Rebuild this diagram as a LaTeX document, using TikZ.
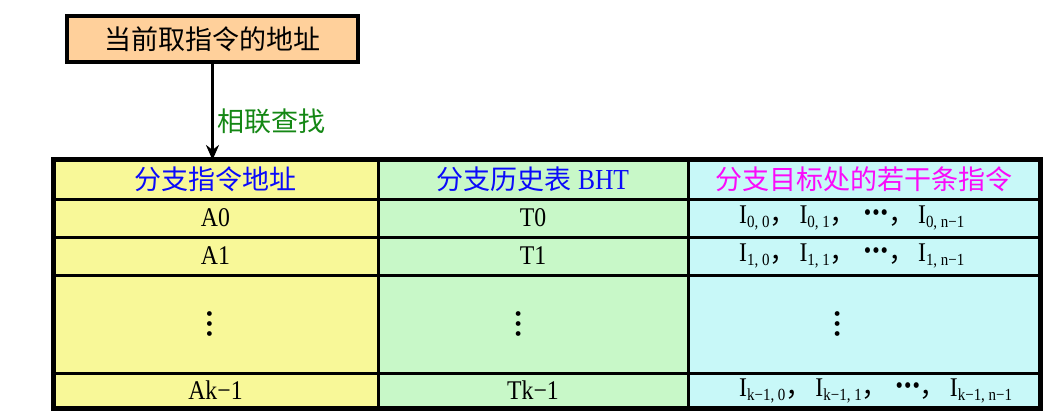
\documentclass[tikz,border=0pt]{standalone}
\usepackage{fontspec}
\setmainfont{Liberation Serif}
\newfontfamily\cjk{Noto Sans CJK SC}
\newfontfamily\narrow[FakeStretch=0.88]{Liberation Serif}
\usetikzlibrary{arrows.meta,positioning}

\definecolor{addrfill}{RGB}{255,208,155}
\definecolor{fillA}{RGB}{248,248,152}
\definecolor{fillB}{RGB}{200,248,200}
\definecolor{fillC}{RGB}{200,248,248}
\definecolor{findgreen}{RGB}{20,135,20}
\definecolor{hdrblue}{RGB}{10,10,250}
\definecolor{hdrpink}{RGB}{250,10,250}

\newcommand{\Ix}[1]{I\raisebox{-4pt}{\fontsize{17}{17}\selectfont #1}}
\newcommand{\hdotsrow}{\hspace{4pt}\raisebox{3pt}{\fontsize{24}{24}\selectfont •\hspace{1pt}•\hspace{1pt}•}}
\newcommand{\cm}{{\cjk ，}\hspace{3pt}}

\begin{document}
\begin{tikzpicture}[x=1pt,y=-1pt,>={Stealth[length=15pt,width=13pt]},
    cell/.style={draw,line width=3pt,outer sep=0pt,inner sep=0pt,
      font=\narrow\fontsize{27}{30}\selectfont},
    hdr/.style={cell,minimum height=39pt,font=\cjk\fontsize{27}{30}\selectfont},
    datarow/.style={cell,minimum height=38pt},
    gaprow/.style={cell,minimum height=98pt},
    lastrow/.style={cell,minimum height=35pt},
    colA/.style={fill=fillA,minimum width=325pt},
    colB/.style={fill=fillB,minimum width=310pt},
    colC/.style={fill=fillC,minimum width=352pt},
    vdotsnode/.style={rotate=-90,inner sep=0pt,font=\fontsize{20}{20}\selectfont},
    irow/.style={anchor=west,inner sep=0pt,font=\narrow\fontsize{27}{30}\selectfont},
    addrbox/.style={draw,line width=4pt,fill=addrfill,minimum width=291pt,
      minimum height=46pt,font=\cjk\fontsize{27}{30}\selectfont}]

    \useasboundingbox[fill=white] (0,0) rectangle (1050,417);

    \node[addrbox] (addr) at (212.5,39) {当前取指令的地址};

    % header row
    \node[hdr,colA,text=hdrblue] (hA) at (215.5,179.5) {分支指令地址};
    \node[hdr,colB,text=hdrblue] (hB) [right=0pt of hA] {分支历史表 {\narrow\fontsize{29}{30}\selectfont BHT}};
    \node[hdr,colC,text=hdrpink] (hC) [right=0pt of hB] {分支目标处的若干条指令};

    % rows
    \node[datarow,colA] (a0) [below=0pt of hA] {A0};
    \node[datarow,colB] (t0) [below=0pt of hB] {T0};
    \node[datarow,colC] (c0) [below=0pt of hC] {};

    \node[datarow,colA] (a1) [below=0pt of a0] {A1};
    \node[datarow,colB] (t1) [below=0pt of t0] {T1};
    \node[datarow,colC] (c1) [below=0pt of c0] {};

    \node[gaprow,colA] (ad) [below=0pt of a1] {};
    \node[gaprow,colB] (td) [below=0pt of t1] {};
    \node[gaprow,colC] (cd) [below=0pt of c1] {};

    \node[lastrow,colA] (ak) [below=0pt of ad] {Ak−1};
    \node[lastrow,colB] (tk) [below=0pt of td] {Tk−1};
    \node[lastrow,colC] (ck) [below=0pt of cd] {};

    % outer frame
    \draw[line width=5pt] (hA.north west) rectangle (ck.south east);

    % texts of the target column
    \node[irow] (i0) at ([xshift=51pt]c0.west) {\Ix{0, 0}\cm\Ix{0, 1}\cm\hdotsrow\cm\Ix{0, n−1}};
    \node[irow] (i1) at ([xshift=51pt]c1.west) {\Ix{1, 0}\cm\Ix{1, 1}\cm\hdotsrow\cm\Ix{1, n−1}};
    \node[irow] (ik) at ([xshift=51pt]ck.west) {\Ix{k−1, 0}\cm\Ix{k−1, 1}\cm\hdotsrow\cm\Ix{k−1, n−1}};

    % vertical dots
    \node[vdotsnode] (dA) at ([xshift=-8pt]ad.center) {•\hspace{3pt}•\hspace{3pt}•};
    \node[vdotsnode] (dB) at ([xshift=-17pt]td.center) {•\hspace{3pt}•\hspace{3pt}•};
    \node[vdotsnode] (dC) at ([xshift=-29pt]cd.center) {•\hspace{3pt}•\hspace{3pt}•};

    \coordinate (hit) at (addr |- hA.north);
    \path[->,line width=3.5pt]
    (addr) edge node[right,pos=0.6,text=findgreen,font=\cjk\fontsize{27}{30}\selectfont] {相联查找} (hit)
    ;
\end{tikzpicture}
\end{document}
